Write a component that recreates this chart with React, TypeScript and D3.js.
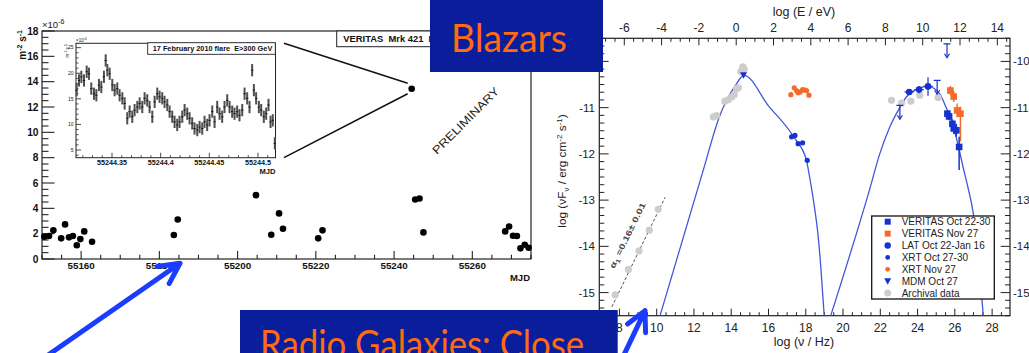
import React from 'react';
import * as d3 from 'd3';

// ---------- Mrk 421 nightly light curve (flux above 300 GeV, 1e-6 m^-2 s^-1)
const nightlyMjd = [55150.6, 55151.8, 55152.9, 55154.9, 55155.9, 55156.9, 55157.9, 55158.9, 55159.8, 55160.8, 55162.8, 55183.7, 55184.7, 55204.7, 55208.6, 55210.6, 55211.6, 55220.6, 55221.7, 55245.4, 55246.5, 55247.5, 55268.4, 55269.4, 55270.4, 55271.4, 55272.3, 55273.4, 55274.4];
const nightlyFlux = [1.76, 1.81, 2.26, 1.63, 2.73, 1.71, 1.81, 1.08, 1.57, 2.18, 1.36, 1.89, 3.12, 5.04, 1.91, 3.6, 2.39, 1.63, 2.26, 4.7, 4.78, 2.1, 2.18, 2.57, 1.84, 1.81, 0.84, 1.13, 0.89];
const flareNightMjd = 55244.5;
const flareNightFlux = 13.44;
const lcFluxTicks = [0, 2, 4, 6, 8, 10, 12, 14, 16, 18];
const lcMjdTicks = [55160, 55180, 55200, 55220, 55240, 55260];

// ---------- 17 February 2010 flare, short time bins
const flareMjd = [55244.3137, 55244.3161, 55244.3185, 55244.3212, 55244.324, 55244.3263, 55244.3287, 55244.3315, 55244.3339, 55244.3366,
  55244.339, 55244.3417, 55244.3435, 55244.3452, 55244.3476, 55244.3503, 55244.3527, 55244.3554, 55244.3578, 55244.3606,
  55244.363, 55244.3657, 55244.3681, 55244.3708, 55244.3732, 55244.376, 55244.3784, 55244.3811, 55244.3835, 55244.3862,
  55244.3886, 55244.3914, 55244.3938, 55244.3965, 55244.3989, 55244.4016, 55244.404, 55244.4068, 55244.4092, 55244.4119,
  55244.4143, 55244.417, 55244.4194, 55244.4222, 55244.4246, 55244.4273, 55244.4297, 55244.4324, 55244.4348, 55244.4376,
  55244.44, 55244.4427, 55244.4451, 55244.4478, 55244.4502, 55244.453, 55244.4554, 55244.4581, 55244.4605, 55244.4632,
  55244.4656, 55244.4684, 55244.4708, 55244.4735, 55244.4759, 55244.4786, 55244.481, 55244.4838, 55244.4862, 55244.4889,
  55244.4913, 55244.494, 55244.4958, 55244.4981, 55244.5009, 55244.5033, 55244.506, 55244.5084, 55244.5108, 55244.5129,
  55244.5152, 55244.5173];
const flareFlux = [16.7, 18.6, 19.3, 18.6, 20.3, 19.9, 17.0, 16.0, 15.7, 17.7,
  17.3, 19.3, 22.5, 20.6, 19.9, 17.7, 16.7, 17.0, 15.7, 15.1,
  14.1, 11.2, 12.5, 11.5, 12.8, 13.4, 14.1, 13.4, 15.1, 14.7,
  13.4, 11.5, 14.4, 16.0, 15.4, 15.1, 14.4, 13.8, 12.5, 11.5,
  10.5, 9.9, 10.5, 11.5, 12.8, 12.1, 11.2, 10.2, 9.2, 8.9,
  9.5, 9.2, 10.5, 9.9, 10.8, 12.5, 10.5, 13.4, 12.1, 11.5,
  13.4, 14.7, 13.4, 12.5, 12.1, 12.5, 11.8, 12.8, 16.0, 15.1,
  13.4, 20.6, 16.7, 15.1, 13.4, 12.8, 11.5, 12.1, 13.8, 10.5,
  10.8, 6.3];
const flareErr = 1.2;
const flareMjdTicks = [55244.35, 55244.4, 55244.45, 55244.5];
const flareMjdLabels = ['55244.35', '55244.4', '55244.45', '55244.5'];
const flareFluxTicks = [5, 10, 15, 20, 25];

// ---------- Spectral energy distribution (log nu / Hz, log nuFnu / erg cm^-2 s^-1)
const syncNu = [10.18, 12.5, 13.36, 13.75, 14.29, 14.5, 14.68, 16.0, 17.33, 18.04, 18.14, 18.44, 18.67, 18.82, 18.99];
const syncF = [-15.5, -12.35, -11.2, -10.84, -10.48, -10.36, -10.3, -10.96, -11.62, -12.14, -12.35, -13.08, -13.8, -14.52, -15.5];
const icNu = [19.34, 21.44, 21.97, 22.51, 22.96, 23.4, 24.03, 24.56, 25.19, 25.46, 25.9, 26.2, 26.45, 26.7, 26.99, 27.25, 27.53];
const icF = [-15.5, -12.75, -12.0, -11.42, -11.06, -10.77, -10.59, -10.54, -10.7, -10.93, -11.38, -11.85, -12.3, -12.72, -13.29, -14.25, -15.5];

const archNu = [13.04, 13.22, 13.66, 13.84, 14.02, 14.16, 14.29, 14.38, 14.52, 14.62, 14.7, 22.6, 23.14, 23.64, 24.12, 25.1, 7.77, 8.48, 9.05, 9.6, 10.08];
const archF = [-11.2, -11.17, -10.86, -10.83, -10.77, -10.72, -10.59, -10.57, -10.22, -10.12, -10.17, -10.84, -10.9, -10.86, -10.73, -10.78, -15.05, -14.5, -14.1, -13.65, -13.2];
const radioFitNu = [7.59, 10.45];
const radioFitF = [-15.31, -12.94];

const xrtOctNu = [17.24, 17.42, 17.59, 17.83, 18.08];
const xrtOctF = [-11.63, -11.6, -11.78, -11.76, -12.14];
const xrtNovNu = [17.2, 17.38, 17.5, 17.59, 17.7, 17.83, 17.95, 18.04, 18.17];
const xrtNovF = [-10.72, -10.57, -10.63, -10.68, -10.66, -10.61, -10.62, -10.63, -10.73];
const mdmNu = [14.66];
const mdmF = [-10.3];
const latNu = [23.55, 24.08, 24.56];
const latF = [-10.66, -10.61, -10.54];
const latErr = [0.06, 0.08, 0.2];
const latUlNu = [23.05, 25.05, 25.58];
const latUlF = [-10.95, -10.41, -9.62];
const verOctNu = [25.6, 25.69, 25.87, 25.94, 26.08, 26.23];
const verOctF = [-11.13, -11.19, -11.35, -11.45, -11.49, -11.85];
const verOctErrLo = [0.08, 0.08, 0.1, 0.12, 0.14, 0.5];
const verOctErrHi = [0.08, 0.08, 0.1, 0.12, 0.14, 0.22];
const verNovNu = [25.76, 25.94, 26.12, 26.3];
const verNovF = [-10.63, -10.76, -11.06, -11.13];
const verNovErrLo = [0.1, 0.12, 0.15, 0.6];
const verNovErrHi = [0.1, 0.12, 0.15, 0.15];

const nuTicks = [8, 10, 12, 14, 16, 18, 20, 22, 24, 26, 28];
const eTicks = [-6, -4, -2, 0, 2, 4, 6, 8, 10, 12, 14];
const sedTicks = [-15, -14, -13, -12, -11, -10];
const legendLabels = ['VERITAS Oct 22-30', 'VERITAS Nov 27', 'LAT Oct 22-Jan 16', 'XRT Oct 27-30', 'XRT Nov 27', 'MDM Oct 27', 'Archival data'];

const HELV = "'Liberation Sans', Arial, Helvetica, sans-serif";
const BLUE = '#1532cf';
const ORANGE = '#f36b2a';
const GRAY = '#cdcdcd';
const MODEL = '#4257d9';
const SLIDE_BLUE = '#0a1e9c';
const SLIDE_ORANGE = '#ff6a13';
const ARROW = '#1a3cff';

export default function App() {
  const xL = d3.scaleLinear().domain([55150, 55275]).range([42, 531]);
  const yL = d3.scaleLinear().domain([0, 18]).range([259, 31]);
  const xI = d3.scaleLinear().domain([55244.313, 55244.518]).range([76, 275.5]);
  const yI = d3.scaleLinear().domain([3.5, 25.85]).range([157.7, 43.3]);
  const xN = d3.scaleLinear().domain([6.92, 28.96]).range([599.3, 1010]);
  const xE = d3.scaleLinear().domain([-7.34, 14.68]).range([599.3, 1010]);
  const yS = d3.scaleLinear().domain([-15.5, -9.5]).range([315.7, 38.3]);

  const [lx0, lx1] = xL.range();
  const [ly0, ly1] = yL.range();
  const [ix0, ix1] = xI.range();
  const [iy0, iy1] = yI.range();
  const [sx0, sx1] = xN.range();
  const [sy0, sy1] = yS.range();

  const modelLine = (nu: number[], f: number[]) =>
    d3.line<number>().x((_, i) => xN(nu[i])).y((_, i) => yS(f[i])).curve(d3.curveMonotoneX)(nu) || '';

  const fx = xL(flareNightMjd);
  const fy = yL(flareNightFlux);

  const arrow = (x0: number, y0: number, x1: number, y1: number, len: number) => {
    const a = Math.atan2(y0 - y1, x0 - x1);
    const w = (27 * Math.PI) / 180;
    const p1 = [x1 + len * Math.cos(a + w), y1 + len * Math.sin(a + w)];
    const p2 = [x1 + len * Math.cos(a - w), y1 + len * Math.sin(a - w)];
    return `M${x0},${y0}L${x1},${y1}M${p1[0]},${p1[1]}L${x1},${y1}L${p2[0]},${p2[1]}`;
  };

  const legendY = (i: number) => 221.7 + i * 11.9;
  const legendMarker = (i: number, x: number, y: number) => {
    switch (i) {
      case 0: return <rect x={x - 3} y={y - 3} width={6} height={6} fill={BLUE} />;
      case 1: return <rect x={x - 3} y={y - 3} width={6} height={6} fill={ORANGE} />;
      case 2: return <circle cx={x} cy={y} r={3.2} fill={BLUE} />;
      case 3: return <circle cx={x} cy={y} r={2.4} fill={BLUE} />;
      case 4: return <circle cx={x} cy={y} r={2.4} fill={ORANGE} />;
      case 5: return <path d={`M${x - 3.5},${y - 3}L${x + 3.5},${y - 3}L${x},${y + 3.5}Z`} fill={BLUE} />;
      default: return <circle cx={x} cy={y} r={3.5} fill={GRAY} />;
    }
  };

  return (
    <svg width={1029} height={353} viewBox="0 0 1029 353"
      style={{ position: 'absolute', left: 0, top: 0, display: 'block', background: '#fff' }}
      fontFamily={HELV}>
      <defs>
        <clipPath id="sedClip">
          <rect x={sx0} y={sy1} width={sx1 - sx0} height={sy0 - sy1} />
        </clipPath>
      </defs>
      <rect x={0} y={0} width={1029} height={353} fill="#fff" />

      {/* ===== Light curve panel ===== */}
      <g>
        <rect x={lx0} y={ly1} width={lx1 - lx0} height={ly0 - ly1} fill="none" stroke="#222" strokeWidth={1.2} />
        {d3.range(0, 18.001, 0.5).map((v) => {
          const major = lcFluxTicks.includes(v);
          return <line key={'ly' + v} x1={lx0} x2={lx0 + (major ? 12.5 : 6.5)} y1={yL(v)} y2={yL(v)} stroke="#222" strokeWidth={1.1} />;
        })}
        {lcFluxTicks.map((v) => (
          <text key={'lyl' + v} x={38.5} y={yL(v) + 3.6} fontSize={10.2} fontWeight="bold" textAnchor="end" fill="#111">{v}</text>
        ))}
        <text x={42} y={27.5} fontSize={9.5} fill="#111">
          ×10<tspan dy={-4} fontSize={7}>-6</tspan>
        </text>
        <text transform="translate(25.5,30) rotate(-90)" fontSize={10} fontWeight="bold" textAnchor="end" fill="#111">
          m<tspan dy={-4} fontSize={7}>-2</tspan><tspan dy={4}> s</tspan><tspan dy={-4} fontSize={7}>-1</tspan>
        </text>
        {d3.range(55150, 55275.1, 5).map((v) => {
          const major = v % 20 === 0;
          return <line key={'lx' + v} x1={xL(v)} x2={xL(v)} y1={ly0} y2={ly0 - (major ? 8 : 4.3)} stroke="#222" strokeWidth={1.1} />;
        })}
        {lcMjdTicks.map((v) => (
          <text key={'lxl' + v} x={xL(v)} y={269.3} fontSize={9.8} fontWeight="bold" textAnchor="middle" fill="#111">{v}</text>
        ))}
        <text x={530} y={281} fontSize={9.5} fontWeight="bold" textAnchor="end" fill="#111">MJD</text>
        {nightlyMjd.map((m, i) => (
          <circle key={'lc' + i} cx={xL(m)} cy={yL(nightlyFlux[i])} r={3.3} fill="#000" />
        ))}
        <circle cx={fx} cy={fy} r={3.3} fill="#000" />

        <rect x={336.7} y={31} width={130} height={15.7} fill="#fff" stroke="#222" strokeWidth={1} />
        <text x={343.3} y={42.3} fontSize={9.4} fontWeight="bold" fill="#111" style={{ whiteSpace: 'pre' }}>
          {'VERITAS  Mrk 421  Integral flux'}
        </text>

        <text transform="translate(468.5,123.5) rotate(-45)" fontSize={11.5} textAnchor="middle" fill="#222"
          textLength={89} lengthAdjust="spacingAndGlyphs">PRELIMINARY</text>

        {/* zoom connectors */}
        <line x1={284} y1={43.3} x2={fx - 4} y2={fy - 5.5} stroke="#111" strokeWidth={1.5} />
        <line x1={284} y1={157.7} x2={fx - 4} y2={fy + 5} stroke="#111" strokeWidth={1.5} />
      </g>

      {/* ===== Flare inset ===== */}
      <g>
        <rect x={ix0} y={iy1} width={ix1 - ix0} height={iy0 - iy1} fill="#fff" stroke="#222" strokeWidth={1} />
        {d3.range(4, 25.5, 1).map((v) => {
          const major = flareFluxTicks.includes(v);
          return <line key={'iy' + v} x1={ix0} x2={ix0 + (major ? 5 : 2.5)} y1={yI(v)} y2={yI(v)} stroke="#222" strokeWidth={0.8} />;
        })}
        {flareFluxTicks.map((v) => (
          <text key={'iyl' + v} x={73.5} y={yI(v) + 1.8} fontSize={5} textAnchor="end" fill="#222">{v}</text>
        ))}
        <text x={76} y={41.5} fontSize={4.5} fill="#222">×10<tspan dy={-2} fontSize={3.5}>-6</tspan></text>
        <text transform="translate(68.5,44) rotate(-90)" fontSize={4.5} textAnchor="end" fill="#222">
          m<tspan dy={-2} fontSize={3.5}>-2</tspan><tspan dy={2}> s</tspan><tspan dy={-2} fontSize={3.5}>-1</tspan>
        </text>
        {d3.range(55244.32, 55244.515, 0.01).map((v, k) => {
          const major = flareMjdTicks.some((t) => Math.abs(t - v) < 1e-6);
          return <line key={'ix' + k} x1={xI(v)} x2={xI(v)} y1={iy0} y2={iy0 - (major ? 5 : 2.5)} stroke="#222" strokeWidth={0.8} />;
        })}
        {flareMjdTicks.map((v, k) => (
          <text key={'ixl' + k} x={xI(v)} y={165.2} fontSize={7.2} fontWeight="bold" textAnchor="middle" fill="#111">{flareMjdLabels[k]}</text>
        ))}
        <text x={275.5} y={173.8} fontSize={7.6} fontWeight="bold" textAnchor="end" fill="#111">MJD</text>
        {flareMjd.map((m, i) => {
          const x = xI(m);
          const y = yI(flareFlux[i]);
          return (
            <g key={'fl' + i}>
              <line x1={x} x2={x} y1={yI(flareFlux[i] + flareErr)} y2={yI(Math.max(flareFlux[i] - flareErr, 3.5))} stroke="#505050" strokeWidth={2} />
              <line x1={x - 1.2} x2={x + 1.2} y1={y} y2={y} stroke="#111" strokeWidth={0.9} />
            </g>
          );
        })}
        <rect x={147.7} y={42.7} width={127.6} height={11.6} fill="#fff" stroke="#222" strokeWidth={0.9} />
        <text x={152.7} y={51.2} fontSize={6.6} fontWeight="bold" fill="#111" style={{ whiteSpace: 'pre' }}
          textLength={119.6} lengthAdjust="spacingAndGlyphs">{'17 February 2010 flare  E>300 GeV'}</text>
      </g>

      {/* ===== SED panel ===== */}
      <g>
        <rect x={sx0} y={sy1} width={sx1 - sx0} height={sy0 - sy1} fill="none" stroke="#222" strokeWidth={1.2} />
        {d3.range(-15.5, -9.49, 1 / 6).map((v, k) => {
          const major = sedTicks.some((t) => Math.abs(t - v) < 1e-6);
          const len = major ? 9.3 : 5;
          return (
            <g key={'sy' + k}>
              <line x1={sx0} x2={sx0 + len} y1={yS(v)} y2={yS(v)} stroke="#222" strokeWidth={1} />
              <line x1={sx1} x2={sx1 - len} y1={yS(v)} y2={yS(v)} stroke="#222" strokeWidth={1} />
            </g>
          );
        })}
        {sedTicks.map((v) => (
          <g key={'syl' + v}>
            <text x={595} y={yS(v) + 4} fontSize={11.5} textAnchor="end" fill="#222">{v}</text>
            <text x={1013} y={yS(v) + 4} fontSize={11.5} fill="#222">{v}</text>
          </g>
        ))}
        {d3.range(7, 28.96, 0.5).map((v) => {
          const major = nuTicks.includes(v);
          return <line key={'sx' + v} x1={xN(v)} x2={xN(v)} y1={sy0} y2={sy0 - (major ? 7 : 3.5)} stroke="#222" strokeWidth={1} />;
        })}
        {nuTicks.map((v) => (
          <text key={'sxl' + v} x={xN(v)} y={332} fontSize={12} textAnchor="middle" fill="#222">{v}</text>
        ))}
        {d3.range(-7, 14.6, 0.5).map((v) => {
          const major = eTicks.includes(v);
          return <line key={'se' + v} x1={xE(v)} x2={xE(v)} y1={sy1} y2={sy1 + (major ? 7 : 3.5)} stroke="#222" strokeWidth={1} />;
        })}
        {eTicks.map((v) => (
          <text key={'sel' + v} x={xE(v)} y={32} fontSize={12} textAnchor="middle" fill="#222">{v}</text>
        ))}
        <text x={804} y={15.5} fontSize={12.5} textAnchor="middle" fill="#222">log (E / eV)</text>
        <text x={804} y={345.5} fontSize={12.5} textAnchor="middle" fill="#222">log (ν / Hz)</text>
        <text transform="translate(566,171) rotate(-90)" fontSize={11.8} textAnchor="middle" fill="#222">
          log (νF<tspan dy={3} fontSize={8}>ν</tspan><tspan dy={-3}> / erg cm</tspan><tspan dy={-4.5} fontSize={8}>-2</tspan><tspan dy={4.5}> s</tspan><tspan dy={-4.5} fontSize={8}>-1</tspan><tspan dy={4.5}>)</tspan>
        </text>

        <g clipPath="url(#sedClip)">
          <path d={modelLine(syncNu, syncF)} fill="none" stroke={MODEL} strokeWidth={1.3} />
          <path d={modelLine(icNu, icF)} fill="none" stroke={MODEL} strokeWidth={1.3} />
          <line x1={xN(radioFitNu[0])} y1={yS(radioFitF[0])} x2={xN(radioFitNu[1])} y2={yS(radioFitF[1])}
            stroke="#555" strokeWidth={1} strokeDasharray="3,2" />

          {archNu.map((n, i) => (
            <circle key={'ar' + i} cx={xN(n)} cy={yS(archF[i])} r={3.6} fill={GRAY} />
          ))}

          {xrtNovNu.map((n, i) => (
            <g key={'xn' + i}>
              <line x1={xN(n - 0.07)} x2={xN(n + 0.07)} y1={yS(xrtNovF[i])} y2={yS(xrtNovF[i])} stroke={ORANGE} strokeWidth={1.5} />
              <circle cx={xN(n)} cy={yS(xrtNovF[i])} r={2.6} fill={ORANGE} />
            </g>
          ))}
          {xrtOctNu.map((n, i) => (
            <g key={'xo' + i}>
              <line x1={xN(n - 0.08)} x2={xN(n + 0.08)} y1={yS(xrtOctF[i])} y2={yS(xrtOctF[i])} stroke={BLUE} strokeWidth={1.5} />
              <circle cx={xN(n)} cy={yS(xrtOctF[i])} r={2.6} fill={BLUE} />
            </g>
          ))}
          {mdmNu.map((n, i) => {
            const x = xN(n);
            const y = yS(mdmF[i]);
            return <path key={'md' + i} d={`M${x - 3.5},${y - 3}L${x + 3.5},${y - 3}L${x},${y + 3.5}Z`} fill={BLUE} />;
          })}

          {latNu.map((n, i) => (
            <g key={'lt' + i}>
              <line x1={xN(n - 0.25)} x2={xN(n + 0.25)} y1={yS(latF[i])} y2={yS(latF[i])} stroke={BLUE} strokeWidth={1.2} />
              <line x1={xN(n)} x2={xN(n)} y1={yS(latF[i] + latErr[i])} y2={yS(latF[i] - latErr[i])} stroke={BLUE} strokeWidth={1.2} />
              <circle cx={xN(n)} cy={yS(latF[i])} r={3.3} fill={BLUE} />
            </g>
          ))}
          {latUlNu.map((n, i) => {
            const x = xN(n);
            const y0 = yS(latUlF[i]);
            const y1 = yS(latUlF[i] - 0.3);
            return (
              <g key={'ul' + i} stroke={BLUE} strokeWidth={1.2} fill="none">
                <line x1={x - 3.5} x2={x + 3.5} y1={y0} y2={y0} />
                <line x1={x} x2={x} y1={y0} y2={y1} />
                <path d={`M${x - 2.5},${y1 - 4}L${x},${y1}L${x + 2.5},${y1 - 4}`} />
              </g>
            );
          })}

          {verNovNu.map((n, i) => {
            const x = xN(n);
            const y = yS(verNovF[i]);
            return (
              <g key={'vn' + i}>
                <line x1={x} x2={x} y1={yS(verNovF[i] + verNovErrHi[i])} y2={yS(verNovF[i] - verNovErrLo[i])} stroke={ORANGE} strokeWidth={1.5} />
                <line x1={xN(n - 0.08)} x2={xN(n + 0.08)} y1={y} y2={y} stroke={ORANGE} strokeWidth={1.5} />
                <rect x={x - 3.3} y={y - 3.3} width={6.6} height={6.6} fill={ORANGE} />
              </g>
            );
          })}
          {verOctNu.map((n, i) => {
            const x = xN(n);
            const y = yS(verOctF[i]);
            return (
              <g key={'vo' + i}>
                <line x1={x} x2={x} y1={yS(verOctF[i] + verOctErrHi[i])} y2={yS(verOctF[i] - verOctErrLo[i])} stroke={BLUE} strokeWidth={1.5} />
                <line x1={xN(n - 0.08)} x2={xN(n + 0.08)} y1={y} y2={y} stroke={BLUE} strokeWidth={1.5} />
                <rect x={x - 3.3} y={y - 3.3} width={6.6} height={6.6} fill={BLUE} />
              </g>
            );
          })}
        </g>

        <text transform="translate(630,236.7) rotate(-64)" fontSize={8} fontWeight="bold" textAnchor="middle" fill="#444"
          textLength={72} lengthAdjust="spacingAndGlyphs">
          α<tspan dy={2} fontSize={6}>1</tspan><tspan dy={-2}> =0.16± 0.01</tspan>
        </text>

        <rect x={871.7} y={216} width={122.6} height={83} fill="#fff" stroke="#111" strokeWidth={1.3} />
        {legendLabels.map((lab, i) => (
          <g key={'lg' + i}>
            {legendMarker(i, 887.7, legendY(i))}
            <text x={901.7} y={legendY(i) + 3.5} fontSize={10} fill="#222">{lab}</text>
          </g>
        ))}
      </g>

      {/* ===== Slide overlays ===== */}
      <rect x={430} y={0} width={173} height={72} fill={SLIDE_BLUE} />
      <text x={451} y={52} fontSize={38} fill={SLIDE_ORANGE} fontFamily="Lato, 'Open Sans', sans-serif"
        textLength={116} lengthAdjust="spacingAndGlyphs">Blazars</text>

      <rect x={240} y={310} width={377.7} height={50} fill={SLIDE_BLUE} />
      <text x={260} y={358} fontSize={38} fill={SLIDE_ORANGE} fontFamily="Lato, 'Open Sans', sans-serif"
        textLength={332} lengthAdjust="spacingAndGlyphs">Radio Galaxies: Close,</text>

      <path d={arrow(41, 360, 180, 263.3, 23)} fill="none" stroke={ARROW} strokeWidth={5} strokeLinecap="round" strokeLinejoin="round" />
      <path d={arrow(621.5, 360, 645, 310.7, 22)} fill="none" stroke={ARROW} strokeWidth={5} strokeLinecap="round" strokeLinejoin="round" />
    </svg>
  );
}
